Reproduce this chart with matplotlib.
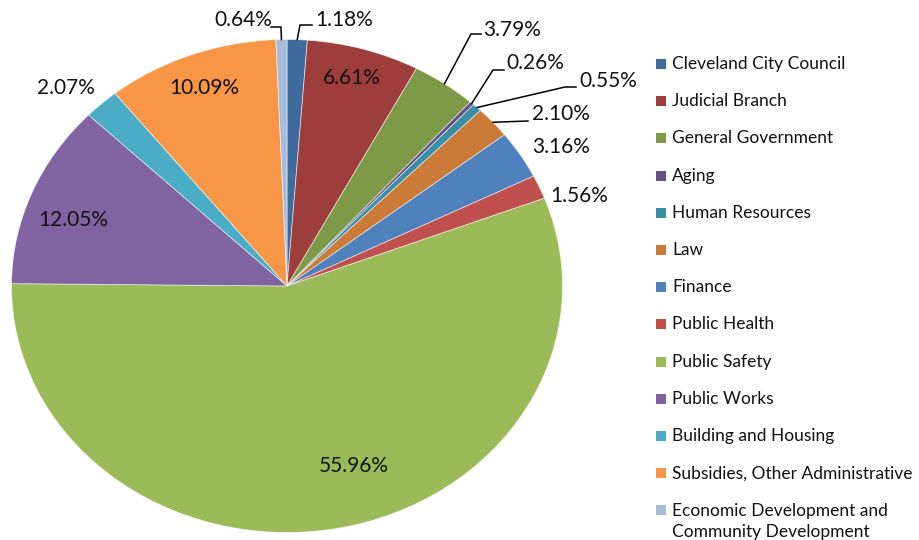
import matplotlib
matplotlib.use("Agg")
import matplotlib.pyplot as plt
from matplotlib.patches import Rectangle
import numpy as np

# budget share by department, clockwise from 12 o'clock
departments = [
    "Cleveland City Council",
    "Judicial Branch",
    "General Government",
    "Aging",
    "Human Resources",
    "Law",
    "Finance",
    "Public Health",
    "Public Safety",
    "Public Works",
    "Building and Housing",
    "Subsidies, Other Administrative",
    "Economic Development and\nCommunity Development",
]
shares = [1.18, 6.61, 3.79, 0.26, 0.55, 2.10, 3.16, 1.56, 55.96, 12.05, 2.07, 10.09, 0.64]

colors = ["#3E6A9E", "#9E3E3C", "#7E9A48", "#664F83", "#3A8FA6", "#CB7A38",
          "#4F81BD", "#C0504D", "#9BBB59", "#8064A2", "#4BACC6", "#F79646", "#A9BBDB"]

# pie centre / radii in pixels (the pie is stretched horizontally)
CX, CY, RX, RY = 287, 286, 275.5, 246.5
W, H = 920, 540


def to_data(px, py):
    return (px - CX) / RX, (CY - py) / RY


# label text centres (px)
label_pos = [(344, 20), (352, 78), (512, 30), (535, 63), (608, 81), (561, 114),
             (561, 147), (579, 196), (354, 466), (73, 220), (66, 88), (204, 88),
             (243, 20)]
# leader lines: index -> (elbow, start near the text) in px
leaders = {
    0: ((300, 25), (312, 25)),
    2: ((471, 34), (481, 34)),
    3: ((493, 70), (504, 70)),
    4: ((565, 87), (576, 87)),
    5: ((528, 121), (528, 121)),
    12: ((281, 27), (271, 27)),
}

plt.rcParams["font.family"] = ["Lato", "DejaVu Sans"]

fig = plt.figure(figsize=(W / 100, H / 100), dpi=100)
ax = fig.add_axes([0, 0, 1, 1])

wedges, _ = ax.pie(shares, colors=colors, startangle=90, counterclock=False,
                   radius=1, wedgeprops=dict(edgecolor=(1, 1, 1, 0.6), linewidth=0.6))
ax.set_aspect("auto")
ax.set_xlim(-CX / RX, (W - CX) / RX)
ax.set_ylim(-(H - CY) / RY, CY / RY)
ax.axis("off")

for i, (w, v) in enumerate(zip(wedges, shares)):
    x, y = to_data(*label_pos[i])
    ax.text(x, y, f"{v:.2f}%", ha="center", va="center", fontsize=15, color="#111111")
    if i in leaders:
        mid = np.deg2rad((w.theta1 + w.theta2) / 2)
        ex, ey = to_data(*leaders[i][0])
        sx, sy = to_data(*leaders[i][1])
        ax.plot([np.cos(mid), ex, sx], [np.sin(mid), ey, sy], color="black", lw=1.1)

# legend on the right: small square + label, one row per department
row0, pitch, box = 64, 37.2, 10
for i, (w, name) in enumerate(zip(wedges, departments)):
    yc = row0 + i * pitch
    fig.patches.append(Rectangle((656 / W, 1 - (yc + box / 2) / H), box / W, box / H,
                                 transform=fig.transFigure, facecolor=w.get_facecolor(),
                                 edgecolor="none"))
    n_lines = name.count("\n") + 1
    ty = yc + (n_lines - 1) * 11
    fig.text(672 / W, 1 - ty / H, name, ha="left", va="center", fontsize=12.5,
             color="#111111", linespacing=1.38)

fig.savefig("out.png", dpi=100)
